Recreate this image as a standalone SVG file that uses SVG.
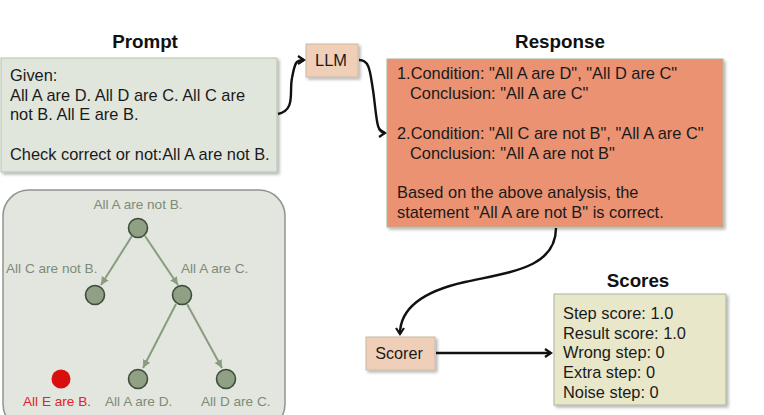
<svg xmlns="http://www.w3.org/2000/svg" width="764" height="415" viewBox="0 0 764 415">
<style>
.t{font-family:"Liberation Sans",Arial,sans-serif;fill:#1a1a1a}
.title{font-family:"Liberation Sans",Arial,sans-serif;font-weight:bold;font-size:18.8px;fill:#111;text-anchor:middle}
.body{font-size:16.4px}
.tl{font-family:"Liberation Sans",Arial,sans-serif;font-size:13.6px;fill:#7d8b78}
.conn{fill:none;stroke:#111;stroke-width:2.4}
.tedge{fill:none;stroke:#8a9c80;stroke-width:2}
.tn{fill:#8fa085;stroke:#3f4b3a;stroke-width:1.6}
.box{filter:url(#sh)}
</style>
<defs>
<filter id="sh" x="-10%" y="-10%" width="130%" height="130%">
<feDropShadow dx="2" dy="2" stdDeviation="1.5" flood-color="#000" flood-opacity="0.3"/>
</filter>
<marker id="ah" markerWidth="10" markerHeight="10" refX="7" refY="5" orient="auto" markerUnits="userSpaceOnUse">
<path d="M1,1 L7,5 L1,9" fill="none" stroke="#111" stroke-width="2.2"/>
</marker>
<marker id="ta" markerWidth="10" markerHeight="10" refX="8" refY="5" orient="auto" markerUnits="userSpaceOnUse">
<path d="M0,1 L8,5 L0,9 Z" fill="#8a9c80"/>
</marker>
</defs>
<rect width="764" height="415" fill="#fff"/>

<g id="prompt">
<text class="title" x="145" y="48">Prompt</text>
<rect class="box" x="1" y="58" width="276" height="114" fill="#e1e6dd" stroke="#b5c1ad" stroke-width="1"/>
<text class="t body" x="10" y="81">Given:</text>
<text class="t body" x="10" y="101">All A are D. All D are C. All C are</text>
<text class="t body" x="10" y="120">not B. All E are B.</text>
<text class="t body" x="10" y="160">Check correct or not:All A are not B.</text>
</g>

<g id="llm">
<rect class="box" x="306" y="44" width="52" height="33" fill="#f0cfb9" stroke="#c9b9a6" stroke-width="1"/>
<text class="t" x="331" y="66" font-size="16.4" text-anchor="middle">LLM</text>
</g>

<g id="response">
<text class="title" x="560" y="48">Response</text>
<rect class="box" x="387" y="59" width="336" height="168" fill="#ea9272" stroke="#aab59a" stroke-width="1"/>
<text class="t body" x="397" y="79">1.Condition: "All A are D", "All D are C"</text>
<text class="t body" x="410" y="99">Conclusion: "All A are C"</text>
<text class="t body" x="397" y="139">2.Condition: "All C are not B", "All A are C"</text>
<text class="t body" x="410" y="159">Conclusion: "All A are not B"</text>
<text class="t body" x="397" y="198">Based on the above analysis, the</text>
<text class="t body" x="397" y="218">statement "All A are not B" is correct.</text>
</g>

<g id="tree">
<rect x="3" y="190" width="282" height="240" rx="26" fill="#e2e6de" stroke="#8e958c" stroke-width="1.5"/>
<text class="tl" x="138" y="209" text-anchor="middle">All A are not B.</text>
<text class="tl" x="6" y="273">All C are not B.</text>
<text class="tl" x="181" y="273">All A are C.</text>
<text class="tl" x="23" y="406" style="fill:#e0242a">All E are B.</text>
<text class="tl" x="105" y="406">All A are D.</text>
<text class="tl" x="201" y="406">All D are C.</text>
<g id="tree-edges">
<line class="tedge" x1="132" y1="236" x2="101" y2="285" marker-end="url(#ta)"/>
<line class="tedge" x1="145" y1="236" x2="178" y2="285" marker-end="url(#ta)"/>
<line class="tedge" x1="176" y1="304" x2="143" y2="368" marker-end="url(#ta)"/>
<line class="tedge" x1="187" y1="304" x2="222" y2="368" marker-end="url(#ta)"/>
</g>
<circle class="tn" cx="138" cy="228" r="9.5"/>
<circle class="tn" cx="95" cy="295" r="9.5"/>
<circle class="tn" cx="182" cy="295" r="9.5"/>
<circle class="tn" cx="138" cy="379" r="9.5"/>
<circle class="tn" cx="226" cy="379" r="9.5"/>
<circle cx="61" cy="379" r="9.5" fill="#d90f0f"/>
</g>

<g id="scorer">
<rect class="box" x="366" y="337" width="69" height="33" fill="#f0cfb9" stroke="#c9b9a6" stroke-width="1"/>
<text class="t" x="399" y="359" font-size="16.2" text-anchor="middle">Scorer</text>
</g>

<g id="scores">
<text class="title" x="638" y="287">Scores</text>
<rect class="box" x="554" y="294" width="172" height="111" fill="#e9e7c9" stroke="#a9b59c" stroke-width="1"/>
<text class="t body" x="563" y="319">Step score: 1.0</text>
<text class="t body" x="563" y="339">Result score: 1.0</text>
<text class="t body" x="563" y="358">Wrong step: 0</text>
<text class="t body" x="563" y="378">Extra step: 0</text>
<text class="t body" x="563" y="398">Noise step: 0</text>
</g>

<g id="connectors">
<path class="conn" d="M278,114 C296,110 289,92 292,78 C295,62 296,60 304,60" marker-end="url(#ah)"/>
<path class="conn" d="M359,60 C370,60 370,72 373,90 C377,118 376,133 385,133" marker-end="url(#ah)"/>
<path class="conn" d="M556,228 C556,268 510,272 465,282 C420,292 400,310 400,334" marker-end="url(#ah)"/>
<path class="conn" d="M436,353 L551,353" marker-end="url(#ah)"/>
</g>
</svg>
